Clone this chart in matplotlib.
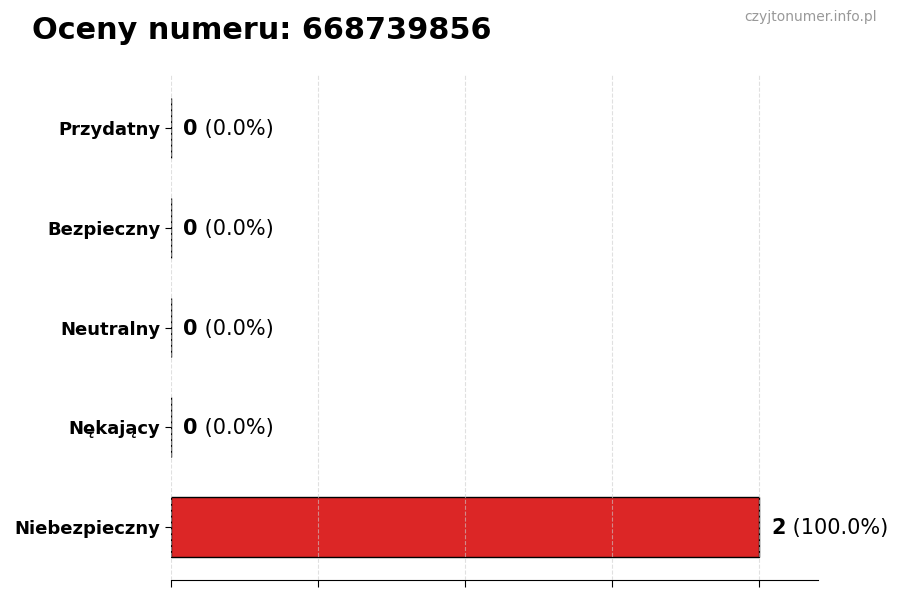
import matplotlib
matplotlib.use("Agg")
import matplotlib.pyplot as plt

categories = ["Niebezpieczny", "Nękający", "Neutralny", "Bezpieczny", "Przydatny"]
counts = [2, 0, 0, 0, 0]
percents = [100.0, 0.0, 0.0, 0.0, 0.0]
bar_color = "#dc2626"
title = "Oceny numeru: 668739856"
watermark = "czyjtonumer.info.pl"

fig = plt.figure(figsize=(9, 6), dpi=100)
ax = fig.add_axes([0.19, 0.0333, 0.719, 0.8417])

ypos = list(range(len(categories)))
ax.barh(ypos, counts, height=0.6, color=bar_color, edgecolor="black", linewidth=1, zorder=2)
ax.set_yticks(ypos)
ax.set_yticklabels(categories, fontsize=13, fontweight="bold")
ax.set_xlim(0, 2.2)
ax.set_xticks([0, 0.5, 1.0, 1.5, 2.0])
ax.set_xticklabels([])
ax.grid(axis="x", linestyle="--", color="#cccccc", alpha=0.6, linewidth=0.8, zorder=3)
ax.set_axisbelow(False)
for s in ["top", "right", "left"]:
    ax.spines[s].set_visible(False)
ax.tick_params(axis="x", length=5)
ax.tick_params(axis="y", length=4)

fig.canvas.draw()
for y, c, p in zip(ypos, counts, percents):
    t1 = ax.annotate(f"{c}", xy=(c, y), xytext=(12, -1), textcoords="offset pixels",
                     fontsize=15, fontweight="bold", va="center", ha="left")
    ax.annotate(f" ({p:.1f}%)", xy=(1, 0), xycoords=t1, va="bottom", ha="left", fontsize=15)

fig.text(0.036, 0.949, title, fontsize=21.8, fontweight="bold", ha="left", va="center")
fig.text(0.974, 0.971, watermark, fontsize=10, color="#999999", ha="right", va="center")

fig.savefig("out.png", dpi=100)
